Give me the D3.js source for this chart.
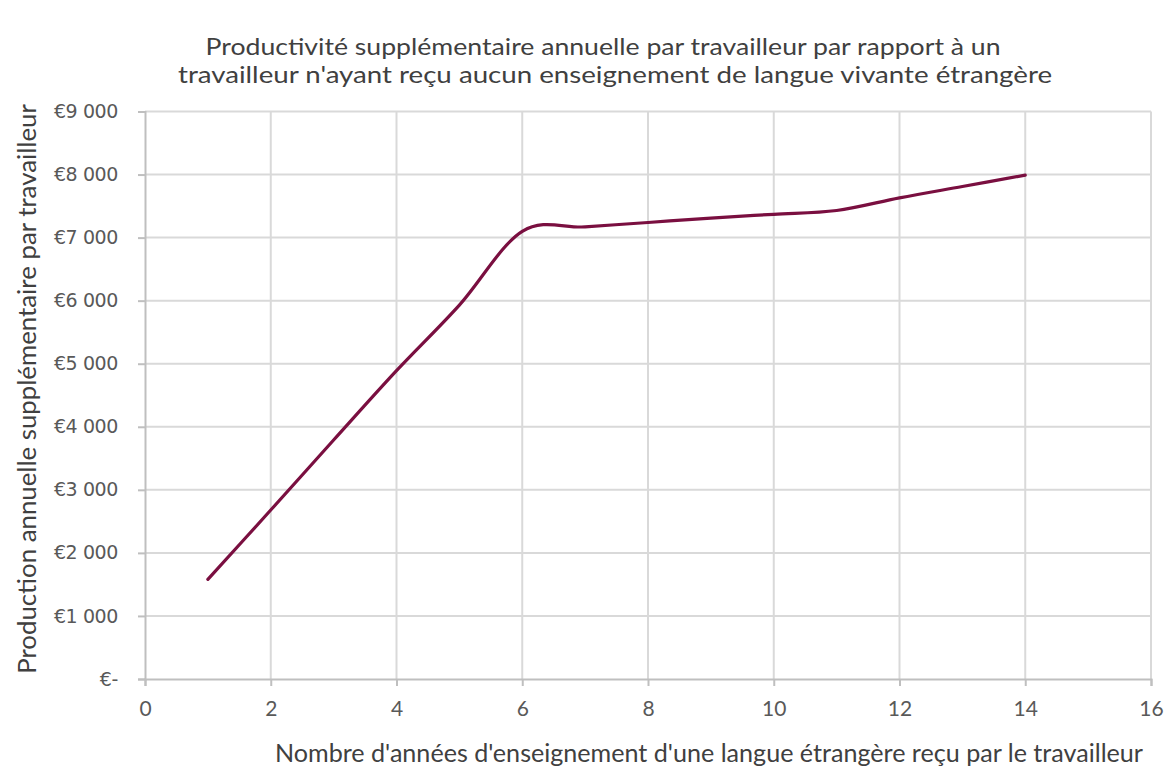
<!DOCTYPE html>
<html lang="fr">
  <head>
    <meta charset="UTF-8" />
    <title>Productivité supplémentaire</title>
    <script src="https://d3js.org/d3.v7.min.js"></script>
    <style>
      body {
        margin: 0;
        background: #fff;
      }
      svg {
        display: block;
      }
    </style>
  </head>
  <body>
    <svg id="chart" width="1167" height="771"></svg>

    <script>
      const years = [1, 2, 3, 4, 5, 6, 7, 8, 9, 10, 11, 12, 13, 14];
      const productivity = [
        1580, 2680, 3790, 4890, 5930, 7100, 7170, 7240, 7310, 7370, 7430,
        7630, 7810, 7990,
      ];
      const xTicks = [0, 2, 4, 6, 8, 10, 12, 14, 16];
      const yTicks = [0, 1000, 2000, 3000, 4000, 5000, 6000, 7000, 8000, 9000];
      const titleLines = [
        "Productivité supplémentaire annuelle par travailleur par rapport à un",
        "travailleur n'ayant reçu aucun enseignement de langue vivante étrangère",
      ];
      const xTitle =
        "Nombre d'années d'enseignement d'une langue étrangère reçu par le travailleur";
      const yTitle = "Production annuelle supplémentaire par travailleur";

      const data = years.map((d, i) => ({ x: d, y: productivity[i] }));

      const svg = d3.select("#chart");
      const plot = { left: 145, right: 1151, top: 111.5, bottom: 679 };

      const x = d3.scaleLinear().domain([0, 16]).range([plot.left, plot.right]);
      const y = d3.scaleLinear().domain([0, 9000]).range([plot.bottom, plot.top]);

      const textFont = "Lato, 'Open Sans', sans-serif";

      // fit a text element to a target width by adjusting its font-size
      function fitWidth(sel, width) {
        const node = sel.node();
        const fs = parseFloat(sel.attr("font-size"));
        const w = node.getComputedTextLength();
        sel.attr("font-size", (fs * width) / w);
      }

      // grid
      svg
        .append("g")
        .selectAll("line")
        .data(yTicks.slice(1))
        .join("line")
        .attr("x1", plot.left)
        .attr("x2", plot.right)
        .attr("y1", (d) => y(d))
        .attr("y2", (d) => y(d))
        .attr("stroke", "#d9d9d9")
        .attr("stroke-width", 2);

      svg
        .append("g")
        .selectAll("line")
        .data(xTicks.slice(1))
        .join("line")
        .attr("x1", (d) => x(d))
        .attr("x2", (d) => x(d))
        .attr("y1", plot.top)
        .attr("y2", plot.bottom)
        .attr("stroke", "#d9d9d9")
        .attr("stroke-width", 2);

      // axes
      const fmt = (d) =>
        d === 0 ? "€-" : "€" + d3.format(",")(d).replace(",", " ");

      const yAxis = svg
        .append("g")
        .attr("transform", `translate(${plot.left},0)`)
        .call(d3.axisLeft(y).tickValues(yTicks).tickSize(7).tickPadding(20).tickFormat(fmt));

      const xAxis = svg
        .append("g")
        .attr("transform", `translate(0,${plot.bottom})`)
        .call(d3.axisBottom(x).tickValues(xTicks).tickSize(7).tickPadding(15).tickFormat(d3.format("d")));

      [yAxis, xAxis].forEach((g) => {
        g.select(".domain").attr("stroke", "#bfbfbf").attr("stroke-width", 2);
        g.selectAll(".tick line").attr("stroke", "#bfbfbf").attr("stroke-width", 2);
      });
      yAxis
        .selectAll(".tick text")
        .attr("fill", "#595959")
        .attr("font-family", "'DejaVu Sans', sans-serif")
        .attr("font-size", 19)
        .attr("letter-spacing", -0.4);
      xAxis
        .selectAll(".tick text")
        .attr("fill", "#595959")
        .attr("font-family", textFont)
        .attr("font-size", 21);

      // line
      const line = d3
        .line()
        .x((d) => x(d.x))
        .y((d) => y(d.y))
        .curve(d3.curveCardinal.tension(0));

      svg
        .append("path")
        .datum(data)
        .attr("fill", "none")
        .attr("stroke", "#7a0f40")
        .attr("stroke-width", 3.2)
        .attr("stroke-linecap", "round")
        .attr("d", line);

      // titles
      svg
        .append("text")
        .attr("x", 603)
        .attr("y", 55)
        .attr("text-anchor", "middle")
        .attr("fill", "#404040")
        .attr("font-family", textFont)
        .attr("font-size", 23)
        .attr("textLength", 795)
        .attr("lengthAdjust", "spacingAndGlyphs")
        .text(titleLines[0]);

      svg
        .append("text")
        .attr("x", 615)
        .attr("y", 83)
        .attr("text-anchor", "middle")
        .attr("fill", "#404040")
        .attr("font-family", textFont)
        .attr("font-size", 23)
        .attr("textLength", 874)
        .attr("lengthAdjust", "spacingAndGlyphs")
        .text(titleLines[1]);

      const xt = svg
        .append("text")
        .attr("x", 709)
        .attr("y", 762)
        .attr("text-anchor", "middle")
        .attr("fill", "#404040")
        .attr("font-family", textFont)
        .attr("font-size", 20)
        .text(xTitle);
      fitWidth(xt, 868);

      const yt = svg
        .append("text")
        .attr("transform", "translate(36,389) rotate(-90)")
        .attr("text-anchor", "middle")
        .attr("fill", "#404040")
        .attr("font-family", textFont)
        .attr("font-size", 20)
        .text(yTitle);
      fitWidth(yt, 570);
    </script>
  </body>
</html>
